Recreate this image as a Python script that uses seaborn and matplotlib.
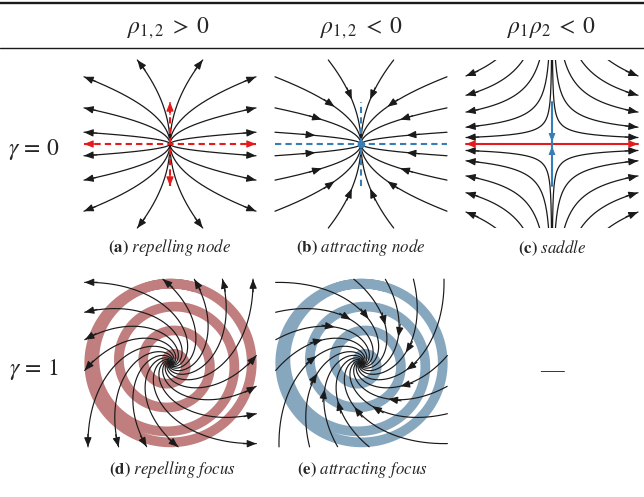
import numpy as np
import pandas as pd
import matplotlib
matplotlib.use('Agg')
import matplotlib.pyplot as plt
from matplotlib.lines import Line2D
import seaborn as sns

sns.set_theme(style='white')
plt.rcParams['font.family'] = ['Liberation Serif', 'DejaVu Serif']
plt.rcParams['mathtext.fontset'] = 'stix'

# table text
col_headers = [r'$\rho_{1,2}\;>\;0$', r'$\rho_{1,2}\;<\;0$', r'$\rho_1\rho_2\;<\;0$']
row_labels = [r'$\gamma\,=\,0$', r'$\gamma\,=\,1$']
captions = [r'$\mathbf{(a)}\ \mathit{repelling\ node}$',
            r'$\mathbf{(b)}\ \mathit{attracting\ node}$',
            r'$\mathbf{(c)}\ \mathit{saddle}$',
            r'$\mathbf{(d)}\ \mathit{repelling\ focus}$',
            r'$\mathbf{(e)}\ \mathit{attracting\ focus}$']
empty_cell = '\u2014'

# node: trajectory end points in the first quadrant, x ~ y**2
node_end_x = [1.0, 1.0, 1.0, 0.38]
node_end_y = [0.14, 0.43, 0.80, 1.0]
node_power = 2.0
node_arrow_r = 0.54

# saddle: y = c / |x|**0.5, value of c = y at the side edge
saddle_c = [0.077, 0.20, 0.38, 0.58, 0.81]
saddle_power = 0.5

# focus: log spirals theta = theta0 + twist * ln(r), theta0 at r = 1 (degrees)
focus_seed_deg = [5, 27.5, 50, 72.5, 95, 117.5, 140, 162.5,
                  185, 207.5, 230, 252.5, 275, 297.5, 320, 342.5]
focus_twist = 1.0
focus_arrow_r = 0.53

# background band: spiral (clockwise from the top) ending in a full outer ring
band_start_r = 0.10
band_pitch = 0.285
band_outer_r = 0.945
band_colors = ['#c17e7e', '#87a7bf']

red, blue = sns.color_palette('Set1')[:2]

W, H = 644, 497
fig = plt.figure(figsize=(W / 100, H / 100), dpi=100)


def panel(cx, cy, limx=1.04, limy=1.04, sx=86, sy=84):
    ax = fig.add_axes([(cx - limx * sx) / W, 1 - (cy + limy * sy) / H,
                       2 * limx * sx / W, 2 * limy * sy / H])
    ax.set_xlim(-limx, limx)
    ax.set_ylim(-limy, limy)
    ax.axis('off')
    return ax


def head(ax, x, y, ux, uy, color='k', step=0.15, ms=10):
    n = np.hypot(ux, uy)
    ax.annotate('', xy=(x, y), xytext=(x - step * ux / n, y - step * uy / n),
                arrowprops=dict(arrowstyle='-|>,head_length=0.55,head_width=0.22',
                                color=color, lw=0.8, mutation_scale=ms,
                                shrinkA=0, shrinkB=0), annotation_clip=False)


def draw_curves(ax, curves, lw=0.9):
    df = pd.concat([pd.DataFrame({'x': c[0], 'y': c[1], 'k': i})
                    for i, c in enumerate(curves)])
    sns.lineplot(data=df, x='x', y='y', units='k', estimator=None, sort=False,
                 color='k', lw=lw, legend=False, ax=ax)
    ax.set_xlabel('')
    ax.set_ylabel('')


def arrow_inward(ax, x, y, r0):
    r = np.hypot(x, y)
    i = int(np.argmax(r >= r0))
    head(ax, x[i], y[i], x[i] - x[i + 3], y[i] - y[i + 3])


quads = [(1, 1), (-1, 1), (-1, -1), (1, -1)]

# ---- (a), (b) nodes
for cx, repel in [(170, True), (361, False)]:
    ax = panel(cx, 144)
    s = np.linspace(0, 1, 300)
    curves = []
    for qx, qy in quads:
        for xe, ye in zip(node_end_x, node_end_y):
            curves.append((qx * xe * s ** node_power, qy * ye * s))
    draw_curves(ax, curves)
    for x, y in curves:
        if repel:
            head(ax, x[-1], y[-1], x[-1] - x[-4], y[-1] - y[-4])
        else:
            arrow_inward(ax, x, y, node_arrow_r)
    col = red if repel else blue
    ax.plot([-1, 1], [0, 0], color=col, lw=1.5, dashes=(3, 2))
    ax.plot([0, 0], [-0.5, 0.5], color=col, lw=1.5, dashes=(3, 2))
    if repel:
        for ex, ey in [(1, 0), (-1, 0), (0, 0.5), (0, -0.5)]:
            head(ax, ex, ey, ex, ey, color=red)
    else:
        ax.plot([0], [0], 'o', color=blue, ms=4.5)

# ---- (c) saddle
ax = panel(552, 144, limx=1.04, limy=1.0)
curves = []
for qx, qy in quads:
    for c in saddle_c:
        y = np.geomspace(1.2, c, 300)
        x = (c / y) ** (1 / saddle_power)
        curves.append((qx * x, qy * y))
draw_curves(ax, curves)
for x, y in curves:
    head(ax, x[-1], y[-1], x[-1] - x[-4], y[-1] - y[-4])
ax.plot([-1, 1], [0, 0], color=red, lw=1.5)
ax.plot([0, 0], [-0.5, 0.5], color=blue, lw=1.5)
for ex in (1, -1):
    head(ax, ex, 0, ex, 0, color=red)
for ey in (0.025, -0.025):
    head(ax, 0, ey, 0, -ey, color=blue, ms=9)

# ---- (d), (e) foci
for cx, repel, bc in [(170.5, True, band_colors[0]), (361.5, False, band_colors[1])]:
    ax = panel(cx, 363)
    phi = np.linspace(-0.35, 4.05, 4000) * 2 * np.pi
    rb = np.clip(band_start_r + band_pitch * phi / (2 * np.pi), 0, band_outer_r)
    th = np.pi / 2 - phi
    ax.plot(rb * np.cos(th), rb * np.sin(th), color=bc, lw=7.0,
            solid_capstyle='butt', zorder=0)
    r = np.geomspace(0.002, 1.6, 2500)
    curves = []
    for t0 in focus_seed_deg:
        t = np.deg2rad(t0) + focus_twist * np.log(r)
        x, y = r * np.cos(t), r * np.sin(t)
        out = (np.abs(x) > 1) | (np.abs(y) > 1)
        n = int(np.argmax(out))
        curves.append((x[:n], y[:n]))
    draw_curves(ax, curves, lw=0.85)
    for x, y in curves:
        if repel:
            head(ax, x[-1], y[-1], x[-1] - x[-6], y[-1] - y[-6])
        else:
            arrow_inward(ax, x, y, focus_arrow_r)

# ---- table text and rules
for y, lw in [(2.5, 1.7), (47.5, 1.0)]:
    fig.add_artist(Line2D([0, 1], [1 - y / H] * 2, transform=fig.transFigure,
                          color='k', lw=lw))
for x, txt in zip([168, 361, 552], col_headers):
    fig.text(x / W, 1 - 28 / H, txt, ha='center', va='center', fontsize=17)
for y, txt in zip([150, 370], row_labels):
    fig.text(34 / W, 1 - y / H, txt, ha='center', va='center', fontsize=17)
for (x, y), txt in zip([(170, 248), (361, 248), (552, 248), (172, 470), (362, 470)], captions):
    fig.text(x / W, 1 - y / H, txt, ha='center', va='center', fontsize=12.2)
fig.text(552 / W, 1 - 372 / H, empty_cell, ha='center', va='center', fontsize=17)

fig.savefig('out.png', dpi=100)
